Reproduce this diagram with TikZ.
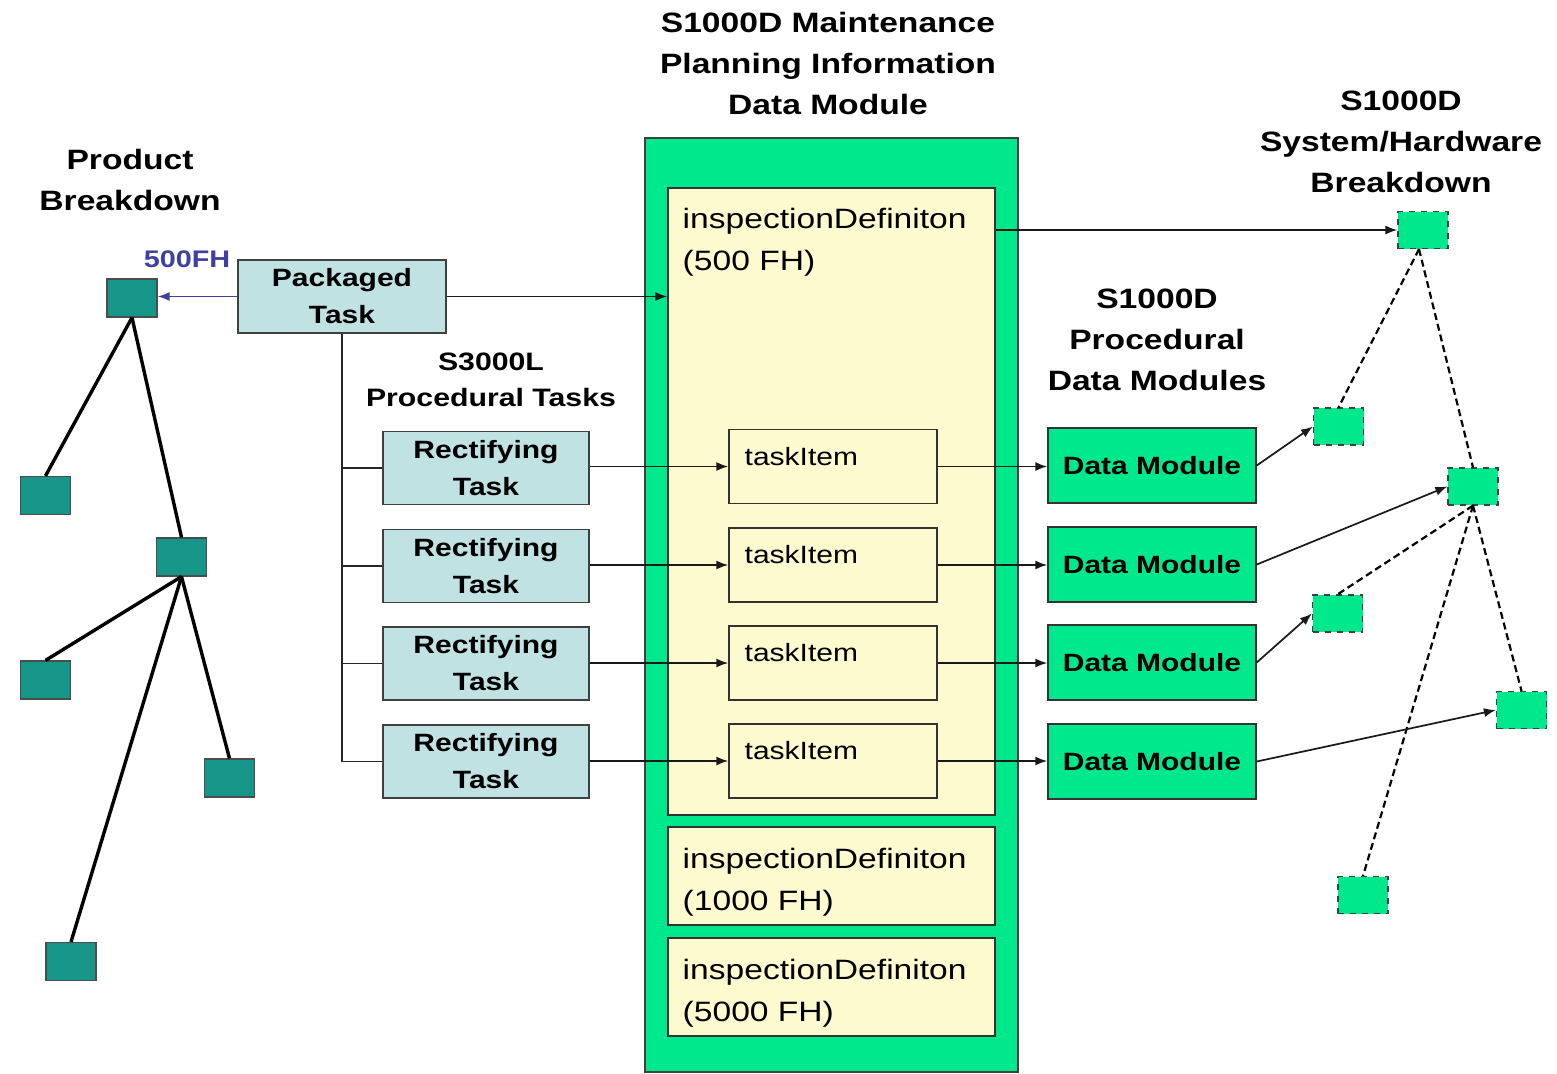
\documentclass[tikz,border=0pt]{standalone}
\usepackage{fontspec}
\setmainfont{Liberation Sans}[FakeStretch=1.2]
\usetikzlibrary{arrows.meta}
\definecolor{mpgreen}{RGB}{0,232,140}
\definecolor{paleyellow}{RGB}{252,250,206}
\definecolor{taskteal}{RGB}{192,226,226}
\definecolor{treeteal}{RGB}{22,150,136}
\definecolor{fhblue}{RGB}{64,64,160}
\begin{document}
\begin{tikzpicture}[x=0.5pt,y=-0.5pt,
  title/.style={font=\bfseries\fontsize{14}{20.5}\selectfont, align=center, inner sep=0},
  boxfont/.style={font=\bfseries\fontsize{12.5}{18.5}\selectfont, align=center, inner sep=0},
  taskbox/.style={boxfont, draw=black!75, line width=0.7pt, fill=taskteal, minimum width=103pt, minimum height=36.5pt},
  dmbox/.style={boxfont, draw=black!80, line width=0.7pt, fill=mpgreen, minimum width=104pt, minimum height=37.5pt},
  itembox/.style={draw=black!80, line width=0.7pt, fill=paleyellow, minimum width=104pt, minimum height=37pt, inner sep=0},
  inspbox/.style={draw=black!80, line width=0.7pt, fill=paleyellow, minimum width=163.5pt, inner sep=0},
  boxtext/.style={anchor=north west, inner sep=0, align=left},
  pbsq/.style={draw=black!70, line width=0.6pt, fill=treeteal, minimum width=25pt, minimum height=19pt, inner sep=0},
  hwsq/.style={draw=black!75, dashed, line width=0.6pt, fill=mpgreen, minimum width=25pt, minimum height=18.5pt, inner sep=0},
  link/.style={-{Latex[length=6pt,width=4.5pt]}, line width=0.85pt, draw=black!90},
  plain/.style={line width=0.85pt, draw=black!85},
  treeline/.style={line width=1.7pt},
  hwline/.style={line width=1.1pt, dash pattern=on 3.5pt off 2pt}
]
\fill[white] (0,0) rectangle (1557,1073);
\useasboundingbox (0,0) rectangle (1557,1073);

% headings
\node[title] (hMPI) at (828,63) {S1000D Maintenance\\Planning Information\\Data Module};
\node[title] (hPB) at (130,180) {Product\\Breakdown};
\node[title, font=\bfseries\fontsize{12.6}{18}\selectfont] (hS3) at (491,380) {S3000L\\Procedural Tasks};
\node[title] (hPDM) at (1157,339.5) {S1000D\\Procedural\\Data Modules};
\node[title] (hSH) at (1401,142) {S1000D\\System/Hardware\\Breakdown};

% maintenance planning information data module
\node[draw=black!75, fill=mpgreen, line width=0.7pt, minimum width=186.5pt, minimum height=467pt, inner sep=0] (mpi) at (831.5,605) {};
\node[inspbox, minimum height=313.5pt] (y1) at (831.5,501.5) {};
\node[inspbox, minimum height=49pt] (y2) at (831.5,876) {};
\node[inspbox, minimum height=49pt] (y3) at (831.5,987) {};
\node[boxtext, font=\fontsize{14}{21}\selectfont] (t1) at ([shift={(15,20)}]y1.north west) {inspectionDefiniton\\(500 FH)};
\node[boxtext, font=\fontsize{14}{21}\selectfont] (t2) at ([shift={(15,21)}]y2.north west) {inspectionDefiniton\\(1000 FH)};
\node[boxtext, font=\fontsize{14}{21}\selectfont] (t3) at ([shift={(15,21)}]y3.north west) {inspectionDefiniton\\(5000 FH)};

% task items
\foreach \i/\y in {1/466.5,2/565,3/663,4/761}{
  \node[itembox] (ti\i) at (833,\y) {};
  \node[boxtext, font=\fontsize{12.5}{15}\selectfont] (tt\i) at ([shift={(16,18)}]ti\i.north west) {taskItem};
}

% packaged task and rectifying tasks
\node[taskbox, minimum width=104pt] (pt) at (342,296.5) {Packaged\\Task};
\node[taskbox] (r1) at (486,468) {Rectifying\\Task};
\node[taskbox] (r2) at (486,566) {Rectifying\\Task};
\node[taskbox] (r3) at (486,663.5) {Rectifying\\Task};
\node[taskbox] (r4) at (486,761.5) {Rectifying\\Task};

% procedural data modules
\node[dmbox] (dm1) at (1152,465.5) {Data Module};
\node[dmbox] (dm2) at (1152,564.5) {Data Module};
\node[dmbox] (dm3) at (1152,662.5) {Data Module};
\node[dmbox] (dm4) at (1152,761.5) {Data Module};

% product breakdown tree
\node[pbsq] (pb0) at (132,298) {};
\node[pbsq] (pb1) at (45.5,495.5) {};
\node[pbsq] (pb2) at (181.5,557) {};
\node[pbsq] (pb3) at (45.5,680) {};
\node[pbsq] (pb4) at (229.5,778) {};
\node[pbsq] (pb5) at (71,961.5) {};
\draw[treeline] (pb0.south) -- (pb1.north);
\draw[treeline] (pb0.south) -- (pb2.north);
\draw[treeline] (pb2.south) -- (pb3.north);
\draw[treeline] (pb2.south) -- (pb4.north);
\draw[treeline] (pb2.south) -- (pb5.north);
\node[font=\bfseries\fontsize{12}{14}\selectfont, text=fhblue, inner sep=0] (fh) at (187,259) {500FH};

% system/hardware breakdown tree
\node[hwsq] (hwA) at (1423,230) {};
\node[hwsq] (hwB) at (1338.5,426.5) {};
\node[hwsq] (hwC) at (1473,486.5) {};
\node[hwsq] (hwD) at (1337.5,613.5) {};
\node[hwsq] (hwE) at (1521.5,710) {};
\node[hwsq] (hwF) at (1363,895) {};
\draw[hwline] ([xshift=-2pt]hwA.south) -- (hwB.north);
\draw[hwline] ([xshift=-2pt]hwA.south) -- (hwC.north);
\draw[hwline] (hwC.south) -- (hwD.north);
\draw[hwline] (hwC.south) -- (hwE.north);
\draw[hwline] (hwC.south) -- (hwF.north);

% connectors
\draw[link, draw=fhblue] (pt.west) -- (pt.west -| pb0.east);
\draw[link] (pt.east) -- (pt.east -| y1.west);
\draw[plain] (pt.south) |- (r4.west);
\draw[plain] (pt.south |- r1.west) -- (r1.west);
\draw[plain] (pt.south |- r2.west) -- (r2.west);
\draw[plain] (pt.south |- r3.west) -- (r3.west);
\foreach \i in {1,2,3,4}{
  \draw[link] (r\i.east |- ti\i.west) -- (ti\i.west);
  \draw[link] (ti\i.east) -- (ti\i.east -| dm\i.west);
}
\draw[link] (hwA.west -| y1.east) -- (hwA.west);
\draw[link] (dm1.east) -- (hwB.west);
\draw[link] (dm2.east) -- (hwC.west);
\draw[link] (dm3.east) -- (hwD.west);
\draw[link] (dm4.east) -- (hwE.west);
\end{tikzpicture}
\end{document}
